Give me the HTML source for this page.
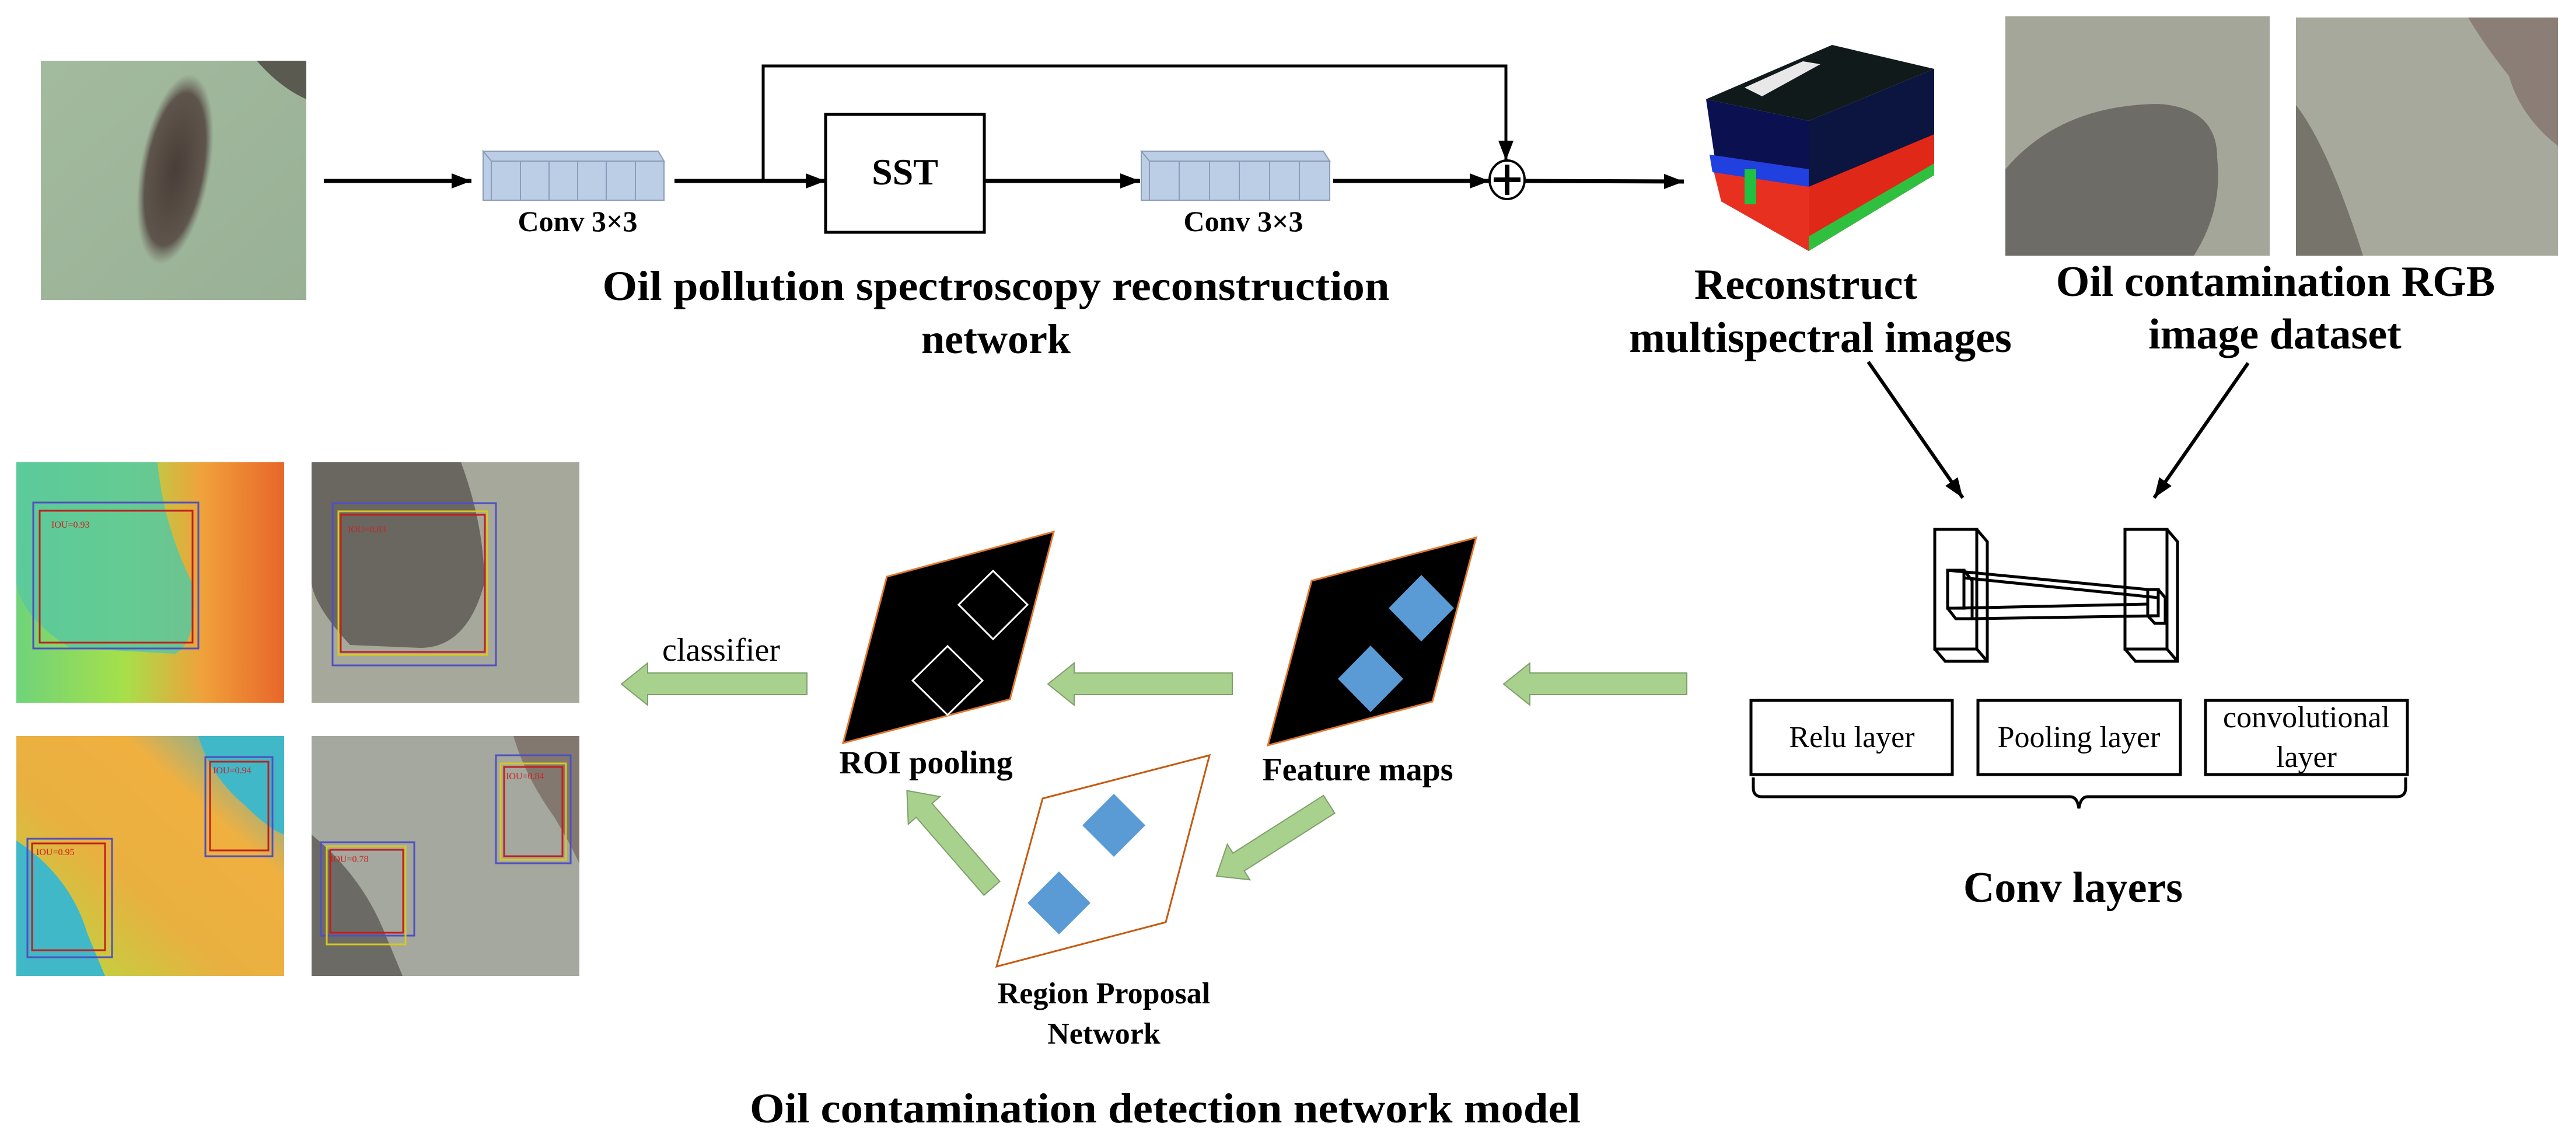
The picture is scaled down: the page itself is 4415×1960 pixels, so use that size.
<!DOCTYPE html>
<html><head><meta charset="utf-8"><style>html,body{margin:0;padding:0;background:#fff}svg{display:block}svg text{font-family:"Liberation Serif","Times New Roman",serif}</style></head><body>
<svg width="4415" height="1960" viewBox="0 0 4415 1960" xmlns="http://www.w3.org/2000/svg">
<defs>
<marker id="ah" markerWidth="34" markerHeight="26" refX="34" refY="13" orient="auto" markerUnits="userSpaceOnUse" viewBox="0 0 34 26"><path d="M0,0 L34,13 L0,26 z" fill="#000"/></marker>
<linearGradient id="lg1" x1="0" y1="0" x2="1" y2="1"><stop offset="0" stop-color="#9fb89a"/><stop offset="1" stop-color="#8fa88c"/></linearGradient>
<radialGradient id="blob" cx="0.5" cy="0.5" r="0.5"><stop offset="0" stop-color="#4a3e38"/><stop offset="0.8" stop-color="#5e554c"/><stop offset="1" stop-color="#6f6b60" stop-opacity="0"/></radialGradient>
<linearGradient id="hm1" x1="0" y1="0" x2="1" y2="0"><stop offset="0" stop-color="#6fd37a"/><stop offset="0.4" stop-color="#a6e04a"/><stop offset="0.7" stop-color="#f0a03a"/><stop offset="1" stop-color="#e8662a"/></linearGradient>
<linearGradient id="hm2" x1="1" y1="0" x2="0" y2="1"><stop offset="0" stop-color="#3ab0d0"/><stop offset="0.3" stop-color="#f0b040"/><stop offset="0.6" stop-color="#e8b040"/><stop offset="1" stop-color="#b0e040"/></linearGradient>
</defs>

<!-- input image -->
<rect x="70" y="104" width="455" height="410" fill="#a8bda5"/>
<rect x="70" y="104" width="455" height="410" fill="url(#lg1)" opacity="0.6"/>
<ellipse cx="300" cy="290" rx="60" ry="165" fill="url(#blob)" transform="rotate(10 300 290)"/>
<path d="M440,104 L525,104 L525,170 Q480,150 440,104z" fill="#5a5a50"/>

<!-- top arrows -->
<g stroke="#000" stroke-width="7" fill="none" marker-end="url(#ah)">
<line x1="555" y1="310" x2="808" y2="310"/>
<line x1="1156" y1="310" x2="1415" y2="310"/>
<line x1="1687" y1="310" x2="1954" y2="310"/>
<line x1="2285" y1="310" x2="2553" y2="310"/>
<line x1="2614" y1="310" x2="2886" y2="311"/>
</g>
<polyline points="1308,310 1308,113 2581,113 2581,275" stroke="#000" stroke-width="5" fill="none" marker-end="url(#ah)"/>
<ellipse cx="2583" cy="308" rx="30" ry="33" fill="#fff" stroke="#000" stroke-width="4"/>
<line x1="2583" y1="282" x2="2583" y2="334" stroke="#000" stroke-width="8"/>
<line x1="2560" y1="308" x2="2606" y2="308" stroke="#000" stroke-width="8"/>

<!-- conv blocks -->
<g stroke="#8a9cb8" stroke-width="2" fill="#bccde6">
<polygon points="828,259 1128,259 1138,276 842,276 828,259"/>
<polygon points="828,259 842,276 842,343 828,343"/>
<rect x="842" y="276" width="296" height="67"/>
<line x1="892" y1="276" x2="892" y2="343"/><line x1="941" y1="276" x2="941" y2="343"/><line x1="990" y1="276" x2="990" y2="343"/><line x1="1039" y1="276" x2="1039" y2="343"/><line x1="1089" y1="276" x2="1089" y2="343"/>
<polygon points="1956,259 2268,259 2279,276 1970,276"/>
<polygon points="1956,259 1970,276 1970,343 1956,343"/>
<rect x="1970" y="276" width="309" height="67"/>
<line x1="2021" y1="276" x2="2021" y2="343"/><line x1="2073" y1="276" x2="2073" y2="343"/><line x1="2124" y1="276" x2="2124" y2="343"/><line x1="2176" y1="276" x2="2176" y2="343"/><line x1="2227" y1="276" x2="2227" y2="343"/>
</g>
<g font-weight="bold" font-size="50" text-anchor="middle">
<text x="990" y="396">Conv 3×3</text>
<text x="2131" y="396">Conv 3×3</text>
</g>
<rect x="1415" y="196" width="272" height="202" fill="#fff" stroke="#000" stroke-width="5"/>
<text x="1551" y="316" font-size="64" font-weight="bold" text-anchor="middle">SST</text>
<g font-weight="bold" font-size="72" text-anchor="middle">
<text x="1707" y="514" textLength="1349" lengthAdjust="spacingAndGlyphs">Oil pollution spectroscopy reconstruction</text>
<text x="1707" y="605">network</text>
</g>

<!-- cube -->
<polygon points="2924,170 3140,77 3315,118 3100,207" fill="#111a1a"/>
<polygon points="2990,150 3090,105 3120,110 3020,165" fill="#e8e8e8"/>
<polygon points="2924,170 3100,207 3100,430 2950,345" fill="#0a1050"/>
<polygon points="2930,265 3100,290 3100,430 2950,345" fill="#e83020"/>
<polygon points="2930,265 3100,290 3100,320 2935,295" fill="#2040e0"/>
<rect x="2990" y="290" width="20" height="60" fill="#20c040"/>
<polygon points="3100,207 3315,118 3315,300 3100,430" fill="#0c1440"/>
<polygon points="3100,320 3315,230 3315,300 3100,430" fill="#e02818"/>
<polygon points="3100,405 3315,280 3315,300 3100,430" fill="#30c040"/>

<!-- RGB dataset -->
<rect x="3437" y="28" width="453" height="410" fill="#a3a698"/>
<path d="M3437,290 Q3530,180 3700,178 Q3800,185 3800,270 Q3810,360 3760,438 L3437,438z" fill="#6e6c66"/>
<rect x="3935" y="30" width="449" height="408" fill="#a6a99c"/>
<path d="M3935,180 Q3990,250 4050,438 L3935,438z" fill="#77746c"/>
<path d="M4230,30 L4384,30 L4384,250 Q4320,200 4300,130 Q4260,80 4230,30z" fill="#8a7e76"/>

<g font-weight="bold" font-size="74" text-anchor="middle">
<text x="3095" y="512">Reconstruct</text>
<text x="3120" y="603">multispectral images</text>
<text x="3900" y="507">Oil contamination RGB</text>
<text x="3899" y="597">image dataset</text>
<text x="3553" y="1545">Conv layers</text>
</g>
<g stroke="#000" stroke-width="6" fill="none" marker-end="url(#ah)">
<line x1="3202" y1="620" x2="3364" y2="853"/>
<line x1="3853" y1="622" x2="3692" y2="853"/>
</g>

<!-- conv layer drawing -->
<g stroke="#000" stroke-width="5" fill="#fff">
<polygon points="3316,907 3388,907 3406,928 3406,1133 3334,1133 3316,1112"/>
<rect x="3316" y="907" width="72" height="205"/>
<line x1="3388" y1="1112" x2="3406" y2="1133"/>
<polygon points="3642,907 3714,907 3732,928 3732,1133 3660,1133 3642,1112"/>
<rect x="3642" y="907" width="72" height="205"/>
<line x1="3714" y1="1112" x2="3732" y2="1133"/>
<rect x="3338" y="977" width="28" height="65"/>
<polygon points="3338,977 3366,977 3380,995 3380,1060 3352,1060 3338,1042" fill="none"/>
<rect x="3681" y="1010" width="18" height="45"/>
<polygon points="3681,1010 3699,1010 3711,1024 3711,1068 3693,1068 3681,1055" fill="none"/>
</g>
<g stroke="#000" stroke-width="5">
<line x1="3338" y1="977" x2="3681" y2="1010"/>
<line x1="3366" y1="990" x2="3699" y2="1024"/>
<line x1="3352" y1="1042" x2="3681" y2="1035"/>
<line x1="3380" y1="1060" x2="3699" y2="1055"/>
</g>
<g stroke="#000" stroke-width="5" fill="#fff">
<rect x="3001" y="1200" width="345" height="127"/>
<rect x="3390" y="1200" width="347" height="127"/>
<rect x="3780" y="1200" width="346" height="127"/>
</g>
<g font-size="52" text-anchor="middle">
<text x="3174" y="1280">Relu layer</text>
<text x="3563" y="1280">Pooling layer</text>
<text x="3953" y="1246">convolutional</text>
<text x="3953" y="1314">layer</text>
</g>
<path d="M3005,1332 L3005,1350 Q3005,1365 3020,1365 L3548,1365 Q3560,1365 3563,1385 Q3566,1365 3578,1365 L4108,1365 Q4123,1365 4123,1350 L4123,1332" stroke="#000" stroke-width="5" fill="none"/>

<!-- result images -->
<rect x="28" y="792" width="459" height="412" fill="url(#hm1)"/>
<path d="M28,792 L270,792 Q280,900 330,1000 Q340,1100 300,1120 L120,1110 Q40,1060 28,1000z" fill="#58c8a0" opacity="0.85"/>
<rect x="57" y="861" width="283" height="250" fill="none" stroke="#5050c0" stroke-width="3"/>
<rect x="68" y="875" width="262" height="226" fill="none" stroke="#c02020" stroke-width="3"/>
<rect x="534" y="792" width="459" height="412" fill="#a6a89c"/>
<path d="M534,792 L790,792 Q830,900 830,1000 Q800,1110 720,1110 L600,1105 Q540,1040 534,1000z" fill="#6a6660"/>
<rect x="570" y="862" width="280" height="278" fill="none" stroke="#5050c0" stroke-width="3"/>
<rect x="580" y="876" width="255" height="246" fill="none" stroke="#d8c820" stroke-width="3"/>
<rect x="584" y="882" width="247" height="235" fill="none" stroke="#c02020" stroke-width="3"/>
<rect x="28" y="1261" width="459" height="411" fill="url(#hm2)"/>
<path d="M28,1440 Q120,1500 150,1600 L180,1672 L28,1672z" fill="#40b8c8"/>
<path d="M487,1261 L340,1261 Q360,1330 420,1380 Q460,1420 487,1430z" fill="#40b8c8"/>
<rect x="47" y="1437" width="145" height="203" fill="none" stroke="#5050c0" stroke-width="3"/>
<rect x="55" y="1445" width="125" height="183" fill="none" stroke="#c02020" stroke-width="3"/>
<rect x="352" y="1297" width="115" height="170" fill="none" stroke="#5050c0" stroke-width="3"/>
<rect x="360" y="1305" width="100" height="152" fill="none" stroke="#c02020" stroke-width="3"/>
<rect x="534" y="1261" width="459" height="411" fill="#a4a89e"/>
<path d="M534,1430 Q620,1500 660,1600 L690,1672 L534,1672z" fill="#6c6a64"/>
<path d="M993,1261 L880,1261 Q900,1330 950,1400 Q980,1450 993,1480z" fill="#827870"/>
<rect x="550" y="1443" width="160" height="160" fill="none" stroke="#5050c0" stroke-width="3"/>
<rect x="560" y="1450" width="135" height="168" fill="none" stroke="#d8c820" stroke-width="3"/>
<rect x="566" y="1456" width="125" height="142" fill="none" stroke="#c02020" stroke-width="3"/>
<rect x="850" y="1294" width="128" height="185" fill="none" stroke="#5050c0" stroke-width="3"/>
<rect x="858" y="1308" width="112" height="165" fill="none" stroke="#d8c820" stroke-width="3"/>
<rect x="864" y="1314" width="100" height="153" fill="none" stroke="#c02020" stroke-width="3"/>
<g font-size="16" fill="#d02020">
<text x="88" y="904">IOU=0.93</text><text x="596" y="912">IOU=0.83</text>
<text x="62" y="1465">IOU=0.95</text><text x="365" y="1325">IOU=0.94</text>
<text x="566" y="1477">IOU=0.78</text><text x="867" y="1335">IOU=0.84</text>
</g>

<!-- green arrows -->
<g fill="#a9d18e" stroke="#7f9f6a" stroke-width="2">
<polygon points="1065,1172 1110,1136 1110,1153 1383,1153 1383,1190 1110,1190 1110,1208"/>
<polygon points="1796,1172 1841,1136 1841,1153 2112,1153 2112,1190 1841,1190 1841,1208"/>
<polygon points="2577,1172 2622,1136 2622,1153 2891,1153 2891,1190 2622,1190 2622,1208"/>
<g transform="translate(2278,1378) rotate(147.5)"><polygon points="0,-18 184,-18 184,-36 229,0 184,36 184,18 0,18"/></g>
<g transform="translate(1700,1522) rotate(229)"><polygon points="0,-18 177,-18 177,-36 222,0 177,36 177,18 0,18"/></g>
</g>

<!-- parallelograms -->
<polygon points="1806,911 1520,988 1445,1273 1731,1198" fill="#000" stroke="#e07830" stroke-width="3"/>
<polygon points="1702,978 1761,1036 1702,1095 1643,1036" fill="none" stroke="#fff" stroke-width="3"/>
<polygon points="1624,1107 1684,1166 1624,1225 1564,1166" fill="none" stroke="#fff" stroke-width="3"/>
<polygon points="2530,921 2248,995 2173,1277 2455,1202" fill="#000" stroke="#e07830" stroke-width="3"/>
<polygon points="2436,985 2492,1042 2436,1099 2380,1042" fill="#5b9bd5"/>
<polygon points="2349,1106 2405,1163 2349,1220 2293,1163" fill="#5b9bd5"/>
<polygon points="2073,1294 1787,1368 1708,1656 1998,1580" fill="#fff" stroke="#c55a11" stroke-width="3"/>
<polygon points="1909,1360 1963,1414 1909,1468 1855,1414" fill="#5b9bd5"/>
<polygon points="1815,1493 1869,1547 1815,1601 1761,1547" fill="#5b9bd5"/>

<g font-weight="bold" font-size="56" text-anchor="middle">
<text x="1587" y="1325">ROI pooling</text>
<text x="2327" y="1337">Feature maps</text>
<text x="1892" y="1719" font-size="52">Region Proposal</text>
<text x="1892" y="1788" font-size="52">Network</text>
<text x="1997" y="1923" font-size="72" textLength="1424" lengthAdjust="spacingAndGlyphs">Oil contamination detection network model</text>
</g>
<text x="1236" y="1132" font-size="56" text-anchor="middle">classifier</text>
</svg>
</body></html>
